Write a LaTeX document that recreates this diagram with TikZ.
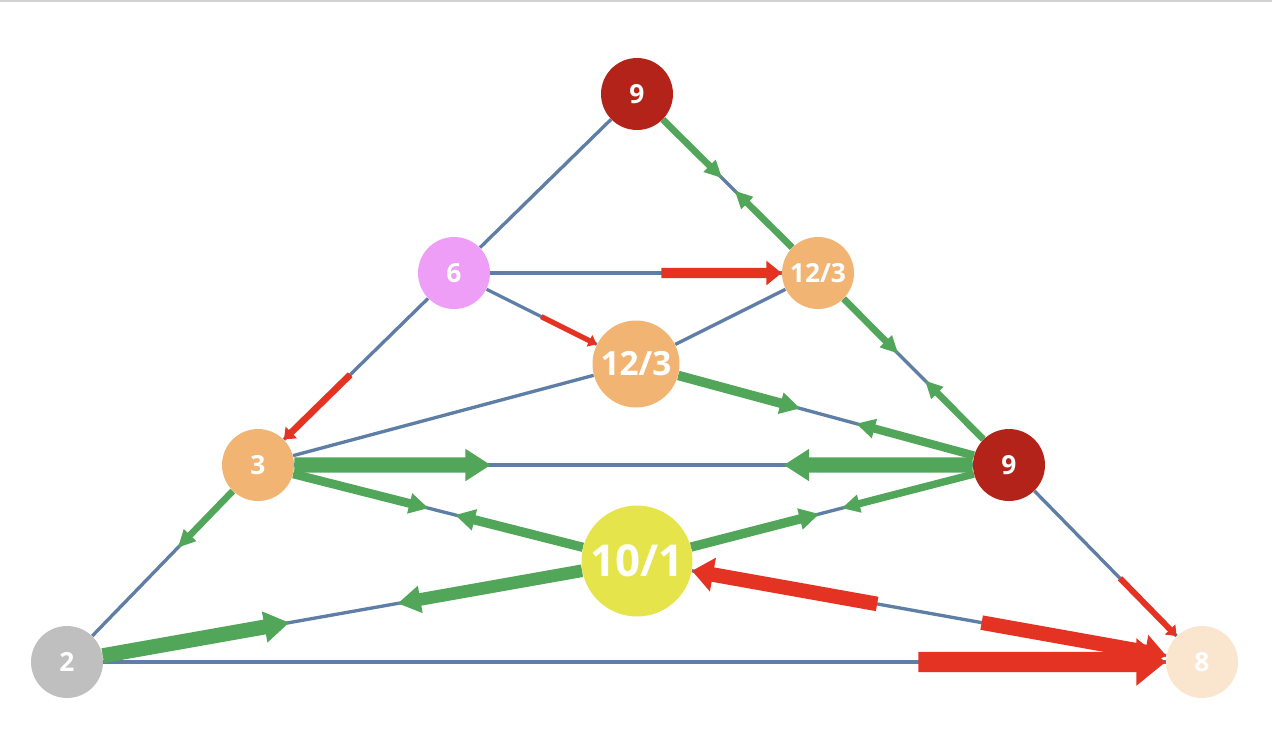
\documentclass[tikz,border=0pt]{standalone}
\usepackage{fontspec}
\setsansfont{Open Sans}
\usetikzlibrary{arrows.meta,backgrounds,calc}
\definecolor{linkblue}{HTML}{5F7EA6}
\definecolor{flowgreen}{HTML}{52A65A}
\definecolor{flowred}{HTML}{E53323}
\definecolor{deepred}{HTML}{B3231A}
\definecolor{orchid}{HTML}{EE9EF6}
\definecolor{peach}{HTML}{F2B473}
\definecolor{lemon}{HTML}{E5E44B}
\definecolor{silver}{HTML}{BFBFBF}
\definecolor{cream}{HTML}{FAE6CF}
\tikzset{
  vertex/.style={
      circle,
      inner sep=0pt,
      minimum size=1.44cm,
      text=white,
      font=\sffamily\bfseries\fontsize{15}{15}\selectfont
  },
  link/.style={
      draw=linkblue,
      line width=1.9pt
  },
  gain/.style={
      draw=flowgreen,
      line width=#1,
      -{Triangle[length=6.6pt 0.9,width=2.8pt 1.67]}
  },
  loss/.style={
      draw=flowred,
      line width=#1,
      -{Triangle[length=0.5pt 1.4,width=0.5pt 2.2]}
  }
}

\begin{document}
\begin{tikzpicture}[x=0.02cm,y=-0.02cm]
    \useasboundingbox (0,0) rectangle (1272,728);
    \draw[gray!35,line width=0.8pt] (0,1) -- (1272,1);

    \node[vertex,fill=deepred] (apex) at (637,94) {9};
    \node[vertex,fill=orchid] (six) at (454,273) {6};
    \node[vertex,fill=peach] (ridge) at (818,273) {12/3};
    \node[vertex,fill=peach,minimum size=1.74cm,font=\sffamily\bfseries\fontsize{19}{19}\selectfont] (core) at (636,364) {12/3};
    \node[vertex,fill=peach] (three) at (258,465) {3};
    \node[vertex,fill=deepred] (flank) at (1009,465) {9};
    \node[vertex,fill=lemon,minimum size=2.22cm,font=\sffamily\bfseries\fontsize{25}{25}\selectfont] (hub) at (637,561) {10/1};
    \node[vertex,fill=silver] (base) at (67,662) {2};
    \node[vertex,fill=cream] (eight) at (1202,662) {8};

    \begin{scope}[on background layer]
    \draw[link] (apex) -- (six);
    \draw[link] (apex) -- (ridge);
    \draw[link] (six) -- (ridge);
    \draw[link] (six) -- (core);
    \draw[link] (six) -- (three);
    \draw[link] (core) -- (ridge);
    \draw[link] (three) -- (core);
    \draw[link] (ridge) -- (flank);
    \draw[link] (core) -- (flank);
    \draw[link] (three) -- (flank);
    \draw[link] (three) -- (hub);
    \draw[link] (hub) -- (flank);
    \draw[link] (three) -- (base);
    \draw[link] (base) -- (hub);
    \draw[link] (hub) -- (eight);
    \draw[link] (base) -- (eight);
    \draw[link] (flank) -- (eight);

    \draw[gain=3.8pt] (apex) -- ($(apex)!0.47!(ridge)$);
    \draw[gain=3.8pt] (ridge) -- ($(ridge)!0.46!(apex)$);
    \draw[gain=3.8pt] (ridge) -- ($(ridge)!0.42!(flank)$);
    \draw[gain=3.8pt] (flank) -- ($(flank)!0.44!(ridge)$);
    \draw[gain=5.4pt] (core) -- ($(core)!0.44!(flank)$);
    \draw[gain=4.7pt] (flank) -- ($(flank)!0.41!(core)$);
    \draw[gain=8.7pt] (three) -- ($(three)!0.31!(flank)$);
    \draw[gain=8.7pt] (flank) -- ($(flank)!0.30!(three)$);
    \draw[gain=5pt] (three) -- ($(three)!0.45!(hub)$);
    \draw[gain=5.3pt] (hub) -- ($(hub)!0.48!(three)$);
    \draw[gain=5.3pt] (hub) -- ($(hub)!0.49!(flank)$);
    \draw[gain=4.2pt] (flank) -- ($(flank)!0.45!(hub)$);
    \draw[gain=3.8pt] (three) -- ($(three)!0.42!(base)$);
    \draw[gain=8.5pt] (base) -- ($(base)!0.39!(hub)$);
    \draw[gain=7.2pt] (hub) -- ($(hub)!0.42!(base)$);

    \draw[loss=5.9pt] ($(six)!0.57!(ridge)$) -- (ridge);
    \draw[loss=3pt] ($(six)!0.48!(core)$) -- (core);
    \draw[loss=3.8pt] ($(six)!0.53!(three)$) -- (three);
    \draw[loss=8.3pt] ($(eight)!0.575!(hub)$) -- (hub);
    \draw[loss=8.3pt] ($(hub)!0.61!(eight)$) -- (eight);
    \draw[loss=11.6pt] ($(base)!0.75!(eight)$) -- (eight);
    \draw[loss=3.4pt] ($(flank)!0.575!(eight)$) -- (eight);
    \end{scope}
\end{tikzpicture}
\end{document}
